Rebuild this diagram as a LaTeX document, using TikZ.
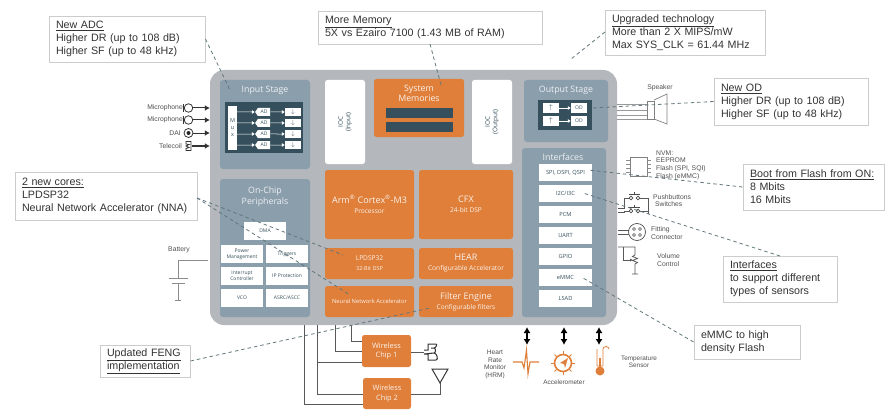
\documentclass[tikz,border=0pt]{standalone}
\usepackage{fontspec}
\usepackage{xcolor}
\setmainfont{Liberation Sans}
\newfontfamily\blockfont{Open Sans}
\usetikzlibrary{arrows.meta,shapes.symbols}

\definecolor{chipgray}{HTML}{B4B7BC}
\definecolor{panelblue}{HTML}{8B9EAC}
\definecolor{slatedark}{HTML}{35505C}
\definecolor{blockorange}{HTML}{DF7F3A}
\definecolor{notetext}{HTML}{333333}
\definecolor{labeltext}{HTML}{505050}
\definecolor{leader}{HTML}{62777C}

\newcommand{\titlesub}[2]{{\fontsize{9}{10}\selectfont #1}\\{\fontsize{6.6}{8}\selectfont #2}}

\tikzset{
  note/.style={draw=black!20,line width=0.9pt,fill=white,inner xsep=7pt,inner ysep=0pt,align=left,
    text=notetext,font=\fontsize{10.7}{12.9}\selectfont},
  panel/.style={fill=panelblue,rounded corners=3pt,inner sep=0pt},
  paneltitle/.style={text=white!85!panelblue,align=center,font=\blockfont\fontsize{8.8}{10.6}\selectfont},
  orangeblock/.style={fill=blockorange,rounded corners=2.5pt,inner sep=0pt,align=center,
    text=white!90!blockorange,font=\blockfont\fontsize{7}{10}\selectfont},
  whitebox/.style={fill=white,inner sep=0pt,align=center,text=slatedark,
    font=\blockfont\fontsize{5}{6}\selectfont},
  tag/.style={text=labeltext,inner sep=0pt,align=left,font=\fontsize{6.8}{7.6}\selectfont},
  wire/.style={draw=black!65,line width=0.8pt},
  leaderline/.style={draw=leader,line width=0.8pt,dash pattern=on 3.5pt off 3pt},
  inarrow/.style={draw=black!80,line width=1pt,-{Latex[length=5pt,width=6pt]}},
  twoway/.style={draw=black,line width=1.2pt,{Latex[length=6pt,width=7pt]}-{Latex[length=6pt,width=7pt]}},
}

\begin{document}
\begin{tikzpicture}[x=1pt,y=-1pt]
  \useasboundingbox (0,0) rectangle (896,417);

  % Draw the chip body and its panels
  \node[fill=chipgray,rounded corners=14pt,minimum width=407pt,minimum height=255pt,inner sep=0pt] (chip) at (413.5,197.5) {};
  \node[panel,minimum width=90pt,minimum height=89pt] (inputstage) at (265,124.5) {};
  \node[panel,minimum width=90pt,minimum height=138pt] (peripherals) at (265,248) {};
  \node[panel,minimum width=84pt,minimum height=62pt] (outputstage) at (566,111) {};
  \node[panel,minimum width=84pt,minimum height=169pt] (interfaces) at (564,232.5) {};
  \node[paneltitle] (inputtitle) at (265,90) {Input Stage};
  \node[paneltitle] (periphtitle) at (265,197) {On-Chip\\Peripherals};
  \node[paneltitle] (outputtitle) at (566,90) {Output Stage};
  \node[paneltitle] (iftitle) at (563,157) {Interfaces};

  % Draw the input stage
  \node[fill=slatedark,minimum width=78pt,minimum height=51pt,inner sep=0pt] (inputdark) at (264,127.5) {};
  \node[whitebox,minimum width=9pt,minimum height=44pt,font=\blockfont\fontsize{5.5}{7}\selectfont] (mux) at (232.5,128) {M\\u\\x};
  \foreach \y/\n in {112/a,123/b,134/c,145/d} {
    \node[whitebox,shape=signal,signal to=west,signal pointer angle=110,minimum width=15pt,minimum height=8pt] (ad\n) at (264,\y) {AD};
    \node[whitebox,minimum width=16pt,minimum height=8pt,font=\fontsize{6}{6}\selectfont] (dn\n) at (293,\y) {$\downarrow$};
    \draw[draw=white,line width=0.5pt,-{Latex[length=3pt,width=4pt]}] (mux.east |- ad\n) -- (ad\n);
    \draw[draw=white,line width=0.5pt,-{Latex[length=3pt,width=4pt]}] (ad\n) -- (dn\n);
  }

  % Draw the sources on the left
  \foreach \y/\n/\txt in {108/mica/Microphone,120/micb/Microphone} {
    \node[draw=black!80,line width=0.8pt,circle,fill=white,minimum size=8.5pt,inner sep=0pt] (\n) at (188.5,\y) {};
    \node[tag,anchor=east] (\n label) at (183,\y) {\txt};
    \draw[line width=0.8pt,black!80] (183.5,\y-4) -- (183.5,\y+4);
    \draw[inarrow] (\n) -- (\n -| chip.west);
  }
  \node[draw=black!80,line width=0.8pt,circle,minimum size=9pt,inner sep=0pt] (dai) at (188.5,133) {};
  \fill[black!85] (dai) circle (2pt);
  \node[tag,anchor=east] (dailabel) at (181,133) {DAI};
  \draw[inarrow] (dai) -- (dai -| chip.west);
  \coordinate (coil) at (192,146);
  \draw[line width=0.8pt,black!80] (191,141.5) -- (186,141.5) -- (186,144) -- (189,144.5) -- (186,146) -- (189,147.5) -- (186,148.5) -- (186,150.5) -- (191,150.5) -- cycle;
  \node[tag,anchor=east] (coillabel) at (182,146) {Telecoil};
  \draw[inarrow,line width=1.4pt] (coil) -- (coil -| chip.west);

  % Draw the on-chip peripherals
  \node[whitebox,minimum width=42pt,minimum height=18pt] (dma) at (265,231) {DMA};
  \node[whitebox,minimum width=42pt,minimum height=18pt] (power) at (242,254) {Power\\Management};
  \node[whitebox,minimum width=42pt,minimum height=18pt] (triggers) at (287,254) {Triggers};
  \node[whitebox,minimum width=42pt,minimum height=18pt] (interrupt) at (242,276) {Interrupt\\Controller};
  \node[whitebox,minimum width=42pt,minimum height=18pt] (ipprot) at (287,276) {IP Protection};
  \node[whitebox,minimum width=42pt,minimum height=18pt] (vco) at (242,298) {VCO};
  \node[whitebox,minimum width=42pt,minimum height=18pt] (asrc) at (287,298) {ASRC/ASCC};

  % Draw the battery
  \node[tag] (batterylabel) at (179,250) {Battery};
  \coordinate (battin) at (208,260);
  \coordinate (battgnd) at (178,300);
  \draw[draw=black!45,line width=0.8pt] (battin) -- (178,260) -- (178,278);
  \draw[draw=black!45,line width=0.8pt] (169,278) -- (188,278) (172,283) -- (185,283) (178,283) -- (battgnd) (175,300) -- (181,300);

  % Draw the memories and the IOC columns
  \node[fill=white,rounded corners=2.5pt,minimum width=40pt,minimum height=84pt,inner sep=0pt] (iocin) at (345,122) {};
  \node[rotate=90,align=center,text=slatedark,font=\blockfont\fontsize{6.4}{7.4}\selectfont] (iocintext) at (345,122) {IOC\\(Input)};
  \node[fill=white,rounded corners=2.5pt,minimum width=40pt,minimum height=84pt,inner sep=0pt] (iocout) at (492,122) {};
  \node[rotate=90,align=center,text=slatedark,font=\blockfont\fontsize{6.4}{7.4}\selectfont] (iocouttext) at (492,122) {IOC\\(Output)};
  \node[orangeblock,minimum width=90pt,minimum height=58pt] (sysmem) at (419,108) {};
  \node[paneltitle,text=white!90!blockorange] (sysmemtext) at (419,93.5) {System\\Memories};
  \node[fill=slatedark,minimum width=67pt,minimum height=10pt,inner sep=0pt] (bara) at (419.5,113) {};
  \node[fill=slatedark,minimum width=67pt,minimum height=10pt,inner sep=0pt] (barb) at (419.5,127) {};

  % Draw the processors and accelerators
  \node[orangeblock,minimum width=89pt,minimum height=69pt] (cortex) at (369.5,204.5) {\titlesub{Arm\textsuperscript{®} Cortex\textsuperscript{®}-M3}{Processor}};
  \node[orangeblock,minimum width=94pt,minimum height=69pt] (cfx) at (466,204.5) {\titlesub{CFX}{24-bit DSP}};
  \node[orangeblock,minimum width=89pt,minimum height=31pt] (lpdsp) at (369.5,263.5) {{\fontsize{6.6}{8}\selectfont LPDSP32}\\{\fontsize{5.5}{7}\selectfont 32-Bit DSP}};
  \node[orangeblock,minimum width=94pt,minimum height=31pt] (hear) at (466,263.5) {\titlesub{HEAR}{Configurable Accelerator}};
  \node[orangeblock,minimum width=89pt,minimum height=31pt,font=\blockfont\fontsize{5.8}{7}\selectfont] (nna) at (369.5,301.5) {Neural Network Accelerator};
  \node[orangeblock,minimum width=94pt,minimum height=31pt] (feng) at (466,301.5) {\titlesub{Filter Engine}{Configurable filters}};

  % Draw the output stage
  \node[fill=slatedark,minimum width=54pt,minimum height=30pt,inner sep=0pt] (outputdark) at (565,115) {};
  \foreach \y/\n in {108/a,121/b} {
    \node[whitebox,minimum width=16pt,minimum height=10pt,font=\fontsize{7}{7}\selectfont] (up\n) at (551,\y) {$\uparrow$};
    \node[whitebox,minimum width=16pt,minimum height=10pt] (od\n) at (579,\y) {OD};
    \draw[draw=white,line width=0.5pt,-{Latex[length=3pt,width=4pt]}] (up\n) -- (od\n);
  }

  % Draw the interface list
  \foreach \y/\n/\txt in {172.5/ifspi/{SPI, DSPI, QSPI},193.5/ifi2c/{I2C/I3C},214.5/ifpcm/PCM,235.5/ifuart/UART,256.5/ifgpio/GPIO,277.5/ifemmc/eMMC,298.5/iflsad/LSAD}
    \node[whitebox,minimum width=53pt,minimum height=17pt,font=\blockfont\fontsize{5.7}{6}\selectfont] (\n) at (565.5,\y) {\txt};

  % Draw the speaker
  \node[tag] (speakerlabel) at (660,88) {Speaker};
  \draw[draw=black!40,line width=0.7pt] (617,104) -- (647,104) (617,110) -- (647,110) (617,115) -- (647,115) (617,119) -- (647,119);
  \draw[draw=black!50,line width=0.7pt] (647,101) rectangle (654,119);
  \draw[draw=black!50,line width=0.7pt] (654,100) -- (667,94) -- (667,124) -- (654,119);

  % Draw the flash part
  \draw[draw=black!50,line width=0.7pt] (630,157) rectangle (647,176);
  \foreach \y in {160,164,168,172} {
    \draw[draw=black!45,line width=1pt] (626,\y) -- (630,\y) (647,\y) -- (651,\y);
  }
  \node[tag,anchor=north west] (nvmlabel) at (656,150.5) {NVM:\\EEPROM\\Flash (SPI, SQI)\\Flash (eMMC)};

  % Draw the push buttons
  \foreach \y in {198,211} {
    \draw[line width=0.7pt,black!70] (631,\y) circle (1.8pt) (638,\y) circle (1.8pt);
    \draw[line width=0.7pt,black!70] (629,\y-3.5) -- (640,\y-3.5) (634.5,\y-3.5) -- (634.5,\y-6);
  }
  \draw[wire] (618,208) -- (624,208) -- (624,198) -- (629.2,198);
  \draw[wire] (618,212) -- (624,212) -- (624,211) -- (629.2,211);
  \draw[wire] (639.8,198) -- (648,198) -- (648,214) (639.8,211) -- (648,211);
  \node[tag,anchor=west] (pushlabel) at (653,200.5) {Pushbuttons\\~Switches};

  % Draw the fitting connector
  \node[draw=black!70,line width=0.7pt,circle,minimum size=17pt,inner sep=0pt] (fitting) at (637,232) {};
  \foreach \dx/\dy in {-3/-3,3/-3,-3/3,3/3} {
    \draw[line width=0.6pt,black!70] (637+\dx,232+\dy) circle (1.5pt);
  }
  \draw[wire] (618,230) -- (628.7,230) (618,234) -- (628.7,234);
  \node[tag,anchor=west] (fittinglabel) at (651,233) {Fitting\\Connector};

  % Draw the volume control
  \draw[wire] (618,247) -- (635,247) -- (635,255) -- (632.5,256.5) -- (637.5,258.5) -- (632.5,260.5) -- (637.5,262.5) -- (635,264) -- (635,274) (632,274) -- (638,274);
  \draw[wire,-{Latex[length=3pt,width=3pt]}] (623,247) -- (623,260) -- (633,260);
  \node[tag,anchor=west] (volumelabel) at (657,260) {Volume\\Control};

  % Draw the wireless chips
  \node[orangeblock,minimum width=49pt,minimum height=32pt,font=\blockfont\fontsize{7.4}{9.6}\selectfont] (chipone) at (386.5,351) {Wireless\\Chip 1};
  \node[orangeblock,minimum width=48pt,minimum height=31pt,font=\blockfont\fontsize{7.4}{9.6}\selectfont] (chiptwo) at (387,393.5) {Wireless\\Chip 2};
  \draw[wire] (chip.south -| 351,0) -- (351,341) -- (chipone.west |- 351,341);
  \draw[wire] (chip.south -| 335,0) -- (335,351) -- (chipone.west);
  \draw[wire] (chip.south -| 317,0) -- (317,394) -- (chiptwo.west |- 317,394);
  \draw[wire] (317,362) -- (chipone.west |- 317,362);
  \draw[wire] (chip.south -| 304,0) -- (304,404) -- (chiptwo.west |- 304,404);

  % Draw the bluetooth plug and the antenna
  \coordinate (plugin) at (424,352);
  \draw[wire] (chipone.east |- plugin) -- (plugin);
  \draw[line width=1pt,black!80] (424,350) -- (428,350) -- (428,344) -- (436,344) to[out=0,in=0] (434,348) -- (431,348) (434,348) to[out=0,in=0] (434,353) -- (431,353) (434,353) to[out=0,in=0] (436,360) -- (428,360) -- (428,354) -- (424,354) -- cycle;
  \coordinate (antenna) at (440,383);
  \draw[wire] (chiptwo.east |- 0,394) -- (440,394) -- (antenna);
  \draw[line width=1pt,black!80] (432,369) -- (448,369) -- (antenna) -- cycle;

  % Draw the sensors
  \foreach \x/\n in {527/hrm,564/accel,599/temp} {
    \coordinate (\n top) at (\x,327);
    \coordinate (\n bot) at (\x,345);
    \draw[twoway] (\n top) -- (\n bot);
  }
  \node[tag,align=center,font=\fontsize{6.6}{7.6}\selectfont] (hrmlabel) at (495,364.5) {Heart\\Rate\\Monitor\\(HRM)};
  \draw[blockorange,line width=1.1pt] (513,362) -- (522,362) -- (524,368) -- (526.5,350) -- (528,374) -- (530,362) -- (539,362);
  \draw[blockorange,line width=1.6pt] (563,363) circle (8.5pt);
  \foreach \a in {0,45,...,315} {
    \draw[blockorange,line width=1pt] (563,363) ++(\a:8.5pt) -- ++(\a:3.5pt);
  }
  \fill[blockorange] (568,358) -- (560,363) -- (564,364) -- (565,368) -- cycle;
  \node[tag,font=\fontsize{6.4}{7}\selectfont] (accellabel) at (564,382) {Accelerometer};
  \draw[blockorange,line width=0.8pt,fill=white] (597,349) -- (597,366) -- (603,366) -- (603,349) arc (0:-180:-3 and 2.5);
  \fill[blockorange] (600,371) circle (4.5pt);
  \fill[blockorange] (598.8,358) rectangle (601.2,370);
  \node[tag,align=center,font=\fontsize{6.4}{7.6}\selectfont] (templabel) at (639,362) {Temperature\\Sensor};

  % Draw the callouts
  \node[note,minimum height=46pt,text width=142pt] (adcnote) at (127,39) {\underline{New ADC}\\Higher DR (up to 108 dB)\\Higher SF (up to 48 kHz)};
  \node[note,minimum height=33pt,text width=210pt] (memnote) at (430,27.5) {\underline{More Memory}\\5X vs Ezairo 7100 (1.43 MB of RAM)};
  \node[note,minimum height=45pt,text width=146pt] (technote) at (685,32.5) {\underline{Upgraded technology}\\More than 2 X MIPS/mW\\Max SYS\_CLK = 61.44 MHz};
  \node[note,minimum height=47pt,text width=140pt] (odnote) at (791,101.5) {\underline{New OD}\\Higher DR (up to 108 dB)\\Higher SF (up to 48 kHz)};
  \node[note,minimum height=46pt,text width=127pt] (bootnote) at (813.5,187) {\underline{Boot from Flash from ON:}\\8 Mbits\\16 Mbits};
  \node[note,minimum height=46pt,text width=100pt] (ifnote) at (780,279) {\underline{Interfaces}\\to support different\\types of sensors};
  \node[note,minimum height=34pt,text width=92pt] (emmcnote) at (747,342) {eMMC to high\\density Flash};
  \node[note,minimum height=48pt,text width=168pt] (coresnote) at (106,196) {\underline{2 new cores:}\\LPDSP32\\Neural Network Accelerator (NNA)};
  \node[note,minimum height=32pt,text width=76pt] (fengnote) at (145,361) {\underline{Updated FENG}\\\underline{implementation}};

  % Draw the dashed leaders
  \coordinate (adcend) at (230,90);
  \coordinate (memstart) at (430,44);
  \coordinate (memend) at (441,85);
  \coordinate (techstart) at (605,32);
  \coordinate (techend) at (571,59);
  \coordinate (odend) at (592,108);
  \coordinate (bootend) at (588,170);
  \coordinate (ifstart) at (780,256);
  \coordinate (ifend) at (583,193);
  \coordinate (emmcend) at (583,278);
  \coordinate (corestart) at (197,198);
  \coordinate (lpdspend) at (343,255);
  \coordinate (nnaend) at (350,295);
  \coordinate (fengend) at (430,308);
  \draw[leaderline] (adcnote.east) -- (adcend);
  \draw[leaderline] (memstart) -- (memend);
  \draw[leaderline] (techstart) -- (techend);
  \draw[leaderline] (odnote.west) -- (odend);
  \draw[leaderline] (bootnote.west) -- (bootend);
  \draw[leaderline] (ifstart) -- (ifend);
  \draw[leaderline] (emmcnote.west) -- (emmcend);
  \draw[leaderline] (corestart) -- (lpdspend);
  \draw[leaderline] (corestart) -- (nnaend);
  \draw[leaderline] (fengnote.east) -- (fengend);
\end{tikzpicture}
\end{document}
